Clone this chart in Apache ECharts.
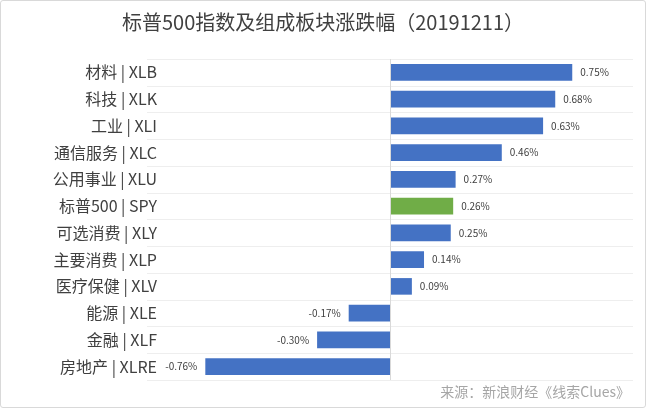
<!DOCTYPE html>
<html><head><meta charset="utf-8">
<script src="https://cdn.jsdelivr.net/npm/echarts@6/dist/echarts.min.js"></script>
<style>html,body{margin:0;padding:0;background:#fff}#c{width:644px;height:406px;border:1px solid #d9d9d9;border-radius:3px}</style>
</head><body><div id="c"></div>
<script>
// 数据（自上而下）
const categories = ["材料 | XLB","科技 | XLK","工业 | XLI","通信服务 | XLC","公用事业 | XLU","标普500 | SPY",
    "可选消费 | XLY","主要消费 | XLP","医疗保健 | XLV","能源 | XLE","金融 | XLF","房地产 | XLRE"];
const values = [0.75, 0.68, 0.63, 0.46, 0.27, 0.26, 0.25, 0.14, 0.09, -0.17, -0.30, -0.76];
const highlight = "标普500 | SPY";

var chart = echarts.init(document.getElementById("c"));
var font = "'Microsoft YaHei','Noto Sans CJK SC',sans-serif";
chart.setOption({
    animation: false,
    title: [
        { text: "标普500指数及组成板块涨跌幅（20191211）", left: "center", top: 6,
            textStyle: { fontSize: 20, fontWeight: "normal", color: "#404040", fontFamily: font } },
        { text: "来源：新浪财经《线索Clues》", right: 10, bottom: 3,
            textStyle: { fontSize: 14, fontWeight: "normal", color: "#a6a6a6", fontFamily: font } },
    ],
    grid: { left: 146, right: 12, top: 58, bottom: 27 },
    xAxis: { type: "value", min: -1, max: 1, show: false },
    yAxis: {
        type: "category", inverse: true, data: categories,
        axisLine: { show: false }, axisTick: { show: false },
        splitLine: { show: true, lineStyle: { color: "#eeeeee" } },
        axisLabel: { fontSize: 16, color: "#404040", fontFamily: font, margin: -10 },
    },
    series: [{
        type: "bar", barCategoryGap: "38%",
        data: values.map(function(v, i) {
            return { value: v, itemStyle: { color: categories[i] === highlight ? "#70ad47" : "#4472c4" },
                label: { position: v < 0 ? "left" : "right" } };
        }),
        label: { show: true, fontSize: 10, color: "#404040", fontFamily: font, distance: 8,
            formatter: function(p) { return p.value.toFixed(2) + "%"; } },
        markLine: { silent: true, symbol: "none", label: { show: false },
            lineStyle: { color: "#d9d9d9", type: "solid", width: 1 }, data: [{ xAxis: 0 }] },
    }],
});
</script></body></html>
